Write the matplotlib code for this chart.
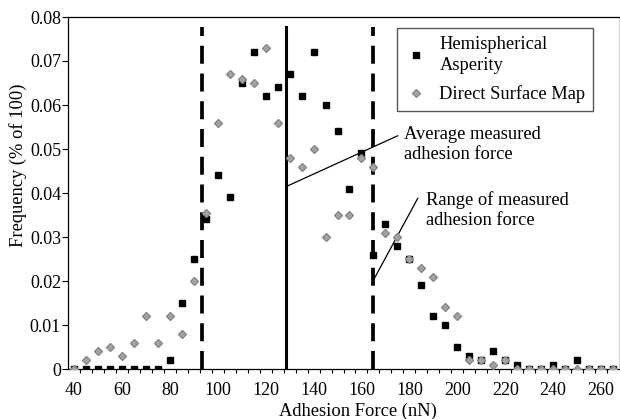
import matplotlib
matplotlib.use("Agg")
import matplotlib.pyplot as plt

plt.rcParams['font.family'] = ['Liberation Serif', 'DejaVu Serif']

# adhesion force categories (nN)
force = [40, 45, 50, 55, 60, 65, 70, 75, 80, 85, 90, 95, 100, 105, 110, 115,
         120, 125, 130, 135, 140, 145, 150, 155, 160, 165, 170, 175, 180, 185,
         190, 195, 200, 205, 210, 215, 220, 225, 230, 235, 240, 245, 250, 255,
         260, 265]

hemispherical = [0, 0, 0, 0, 0, 0, 0, 0, 0.002, 0.015, 0.025, 0.034, 0.044,
                 0.039, 0.065, 0.072, 0.062, 0.064, 0.067, 0.062, 0.072, 0.060,
                 0.054, 0.041, 0.049, 0.026, 0.033, 0.028, 0.025, 0.019, 0.012,
                 0.010, 0.005, 0.003, 0.002, 0.004, 0.002, 0.001, 0, 0, 0.001,
                 0, 0.002, 0, 0, 0]

surface_map = [0, 0.002, 0.004, 0.005, 0.003, 0.006, 0.012, 0.006, 0.012, 0.008,
               0.020, 0.0355, 0.056, 0.067, 0.066, 0.065, 0.073, 0.056, 0.048,
               0.046, 0.050, 0.030, 0.035, 0.035, 0.048, 0.046, 0.031, 0.030,
               0.025, 0.023, 0.021, 0.014, 0.012, 0.002, 0.002, 0.001, 0.002,
               0, 0, 0, 0, 0, 0, 0, 0, 0]

avg_force = 128.3
range_low = 93.3
range_high = 165.0
line_top = 0.0777

fig = plt.figure(figsize=(6.2, 4.19), dpi=100)
ax = fig.add_axes([68/620, 50/419, 551/620, 352/419])

ax.plot(force, hemispherical, 's', color='black', markersize=3.8,
        linestyle='none', label='Hemispherical\nAsperity', zorder=3)
ax.plot(force, surface_map, 'D', color='#a3a3a3', markeredgecolor='#8a8a8a',
        markersize=3.6, linestyle='none', label='Direct Surface Map', zorder=4)

ax.plot([avg_force, avg_force], [0, line_top], color='black', lw=2.2, zorder=2)
for xr in (range_low, range_high):
    ax.plot([xr, xr], [0, line_top], color='black', lw=2.7,
            linestyle=(0, (4.8, 2.6)), zorder=2)

# callouts
ax.plot([avg_force, 175.1], [0.0414, 0.053], color='black', lw=0.9)
ax.text(177.9, 0.051, 'Average measured\nadhesion force', fontsize=13.3,
        ha='left', va='center')
ax.plot([range_high, 183.5], [0.0202, 0.0388], color='black', lw=0.9)
ax.text(186.9, 0.0361, 'Range of measured\nadhesion force', fontsize=13.3,
        ha='left', va='center')

ax.set_xlim(37.5, 267.5)
ax.set_ylim(0, 0.08)

ax.set_xticks([42.5 + 5*i for i in range(45)])
ax.set_xticklabels([])
ax.set_xticks(list(range(40, 261, 20)), minor=True)
ax.set_xticklabels([str(v) for v in range(40, 261, 20)], minor=True, fontsize=13)
ax.tick_params(axis='x', which='major', direction='out', length=3, width=0.8)
ax.tick_params(axis='x', which='minor', length=0, pad=9)

ax.set_yticks([0, 0.01, 0.02, 0.03, 0.04, 0.05, 0.06, 0.07, 0.08])
ax.set_yticklabels(['0', '0.01', '0.02', '0.03', '0.04', '0.05', '0.06', '0.07', '0.08'],
                   fontsize=13)
ax.tick_params(axis='y', direction='out', length=4, width=0.8, pad=1)

ax.set_xlabel('Adhesion Force (nN)', fontsize=13.3, labelpad=0)
ax.xaxis.set_label_coords(0.527, -0.095)
ax.set_ylabel('Frequency (% of 100)', fontsize=13.3)
ax.yaxis.set_label_coords(-0.074, 0.58)

for s in ('left', 'bottom', 'top'):
    ax.spines[s].set_linewidth(0.9)
ax.spines['right'].set_color('#d0d0d0')

leg = ax.legend(loc='upper left', bbox_to_anchor=(0.597, 0.968), borderaxespad=0,
                fontsize=13.3, fancybox=False, edgecolor='#555555', framealpha=1,
                handletextpad=0.6, borderpad=0.4, labelspacing=0.65,
                handlelength=1.3)
leg.get_frame().set_linewidth(1.0)
leg.get_texts()[0].set_linespacing(1.3)

fig.savefig('out.png', dpi=100)
